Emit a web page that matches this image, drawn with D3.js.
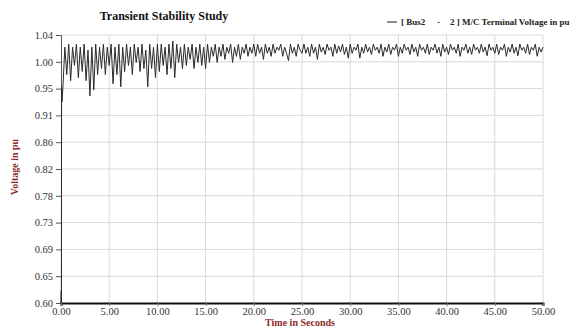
<!DOCTYPE html>
<html>
<head>
<meta charset="utf-8">
<script src="https://cdn.jsdelivr.net/npm/d3@7"></script>
<style>
  body { margin: 0; background: #fff; }
  text { font-family: "Liberation Serif", "Times New Roman", serif; }
</style>
</head>
<body>
<svg id="chart" width="572" height="328"></svg>
<script>
// x ticks and y ticks as printed on the chart
const xTickLabels = ["0.00", "5.00", "10.00", "15.00", "20.00", "25.00", "30.00", "35.00", "40.00", "45.00", "50.00"];
const yTickLabels = ["0.60", "0.65", "0.69", "0.73", "0.78", "0.82", "0.86", "0.91", "0.95", "1.00", "1.04"];

// start-up transient (fine steps)
const startTimes = [0.00, 0.02, 0.04, 0.06, 0.10];
const startVolts = [0.60, 0.62, 0.60, 0.955, 0.93];

// sampled every 0.2 s from t = 0.2 to 50.0
const sampleStep = 0.2;
const voltage = [
  // 0.2 - 5.0
  0.955, 1.02, 0.975, 1.025, 0.965, 1.02, 0.99, 1.025, 0.97, 1.02, 0.98, 1.025, 0.965, 1.015, 0.94, 1.02, 0.95, 1.025, 0.975, 1.02, 0.985, 1.025, 0.975, 1.02, 0.99,
  // 5.2 - 10.0
  1.025, 0.96, 1.02, 0.975, 1.025, 0.955, 1.02, 0.98, 1.025, 0.99, 1.02, 0.975, 1.025, 0.995, 1.02, 0.98, 1.025, 0.985, 1.015, 0.955, 1.025, 0.985, 1.02, 0.97, 1.025,
  // 10.2 - 15.0
  0.98, 1.025, 0.99, 1.02, 0.975, 1.025, 0.985, 1.03, 0.97, 1.025, 0.995, 1.02, 0.985, 1.025, 0.99, 1.02, 1.00, 1.025, 0.985, 1.02, 0.995, 1.025, 0.99, 1.02, 0.985,
  // 15.2 - 20.0
  1.025, 0.995, 1.02, 1.005, 1.025, 0.995, 1.02, 1.005, 1.025, 1.00, 1.02, 1.01, 1.025, 0.995, 1.02, 1.005, 1.025, 1.00, 1.02, 1.01, 1.025, 1.005, 1.02, 1.01, 1.025,
  // 20.2 - 25.0
  1.005, 1.025, 1.01, 1.02, 1.00, 1.025, 1.01, 1.02, 1.005, 1.025, 1.01, 1.02, 1.015, 1.025, 1.005, 1.02, 1.01, 0.998, 1.025, 1.01, 1.02, 1.005, 1.025, 1.015, 1.01,
  // 25.2 - 30.0
  1.025, 1.01, 1.02, 1.005, 1.025, 1.01, 1.02, 1.00, 1.025, 1.012, 1.02, 1.008, 1.025, 1.015, 1.02, 1.005, 1.025, 1.01, 1.022, 1.012, 1.025, 1.008, 1.02, 1.002, 1.025,
  // 30.2 - 35.0
  1.01, 1.02, 1.015, 1.025, 1.002, 1.02, 1.01, 1.025, 1.012, 1.02, 1.008, 1.025, 1.015, 1.02, 1.01, 1.025, 1.005, 1.02, 1.012, 1.025, 1.008, 1.02, 1.015, 1.025, 1.005,
  // 35.2 - 40.0
  1.02, 1.01, 1.025, 1.015, 1.02, 1.008, 1.025, 1.012, 1.02, 1.005, 1.025, 1.015, 1.02, 1.01, 1.025, 1.008, 1.02, 1.015, 1.025, 1.01, 1.02, 1.005, 1.025, 1.012, 1.02,
  // 40.2 - 45.0
  1.008, 1.025, 1.015, 1.02, 1.01, 1.025, 1.005, 1.02, 1.015, 1.025, 1.01, 1.02, 1.008, 1.025, 1.015, 1.02, 1.01, 1.025, 1.012, 1.02, 1.006, 1.025, 1.015, 1.02, 1.01,
  // 45.2 - 50.0
  1.025, 1.008, 1.02, 1.015, 1.025, 1.005, 1.02, 1.012, 1.025, 1.01, 1.02, 1.006, 1.025, 1.015, 1.02, 1.01, 1.025, 1.008, 1.02, 1.015, 1.025, 1.005, 1.02, 1.012, 1.02
];

const labelRed = "#8b2b2b";
const svg = d3.select("#chart");

const x = d3.scaleLinear().domain([0, 50]).range([61, 543]);
const y = d3.scaleLinear().domain([0.60, 1.04]).range([303, 35]);

const xTickVals = xTickLabels.map(Number);
const yTickVals = yTickLabels.map((d, i) => 0.60 + i * 0.044);

// grid
svg.append("g").selectAll("line.vg")
  .data(xTickVals.slice(1))
  .join("line")
  .attr("x1", d => x(d)).attr("x2", d => x(d))
  .attr("y1", y(1.04)).attr("y2", y(0.60))
  .attr("stroke", "#d8d8d8").attr("stroke-width", 1);

svg.append("g").selectAll("line.hg")
  .data(yTickVals.slice(1))
  .join("line")
  .attr("x1", x(0)).attr("x2", x(50))
  .attr("y1", d => y(d)).attr("y2", d => y(d))
  .attr("stroke", "#d8d8d8").attr("stroke-width", 1);

// axes
const yAxis = d3.axisLeft(y)
  .tickValues(yTickVals)
  .tickFormat((d, i) => yTickLabels[i])
  .tickSize(5).tickPadding(3);

const gy = svg.append("g").attr("transform", `translate(${x(0)},0)`).call(yAxis);
gy.select(".domain").attr("stroke", "#555");
gy.selectAll(".tick line").attr("stroke", "#555");
gy.selectAll("text").attr("font-size", "10.5px").attr("fill", "#333")
  .style("font-family", "'Liberation Serif', serif");

const xAxis = d3.axisBottom(x)
  .tickValues(xTickVals)
  .tickFormat((d, i) => xTickLabels[i])
  .tickSize(3).tickPadding(2);

const gx = svg.append("g").attr("transform", `translate(0,${y(0.60)})`).call(xAxis);
gx.select(".domain").attr("stroke", "#111").attr("stroke-width", 2);
gx.selectAll(".tick line").attr("stroke", "#777");
gx.selectAll("text").attr("font-size", "10.5px").attr("fill", "#333")
  .style("font-family", "'Liberation Serif', serif");

// series
const points = startTimes.map((t, i) => [t, startVolts[i]])
  .concat(voltage.map((v, i) => [(i + 1) * sampleStep, v]));

const line = d3.line()
  .x(d => x(d[0]))
  .y(d => y(d[1]));

svg.append("path")
  .datum(points)
  .attr("d", line)
  .attr("fill", "none")
  .attr("stroke", "#2a2a2a")
  .attr("stroke-width", 1);

// title
svg.append("text")
  .attr("x", 164).attr("y", 20)
  .attr("text-anchor", "middle")
  .attr("font-size", "12px").attr("font-weight", "bold")
  .attr("fill", "#111")
  .text("Transient Stability Study");

// legend
svg.append("line")
  .attr("x1", 387).attr("x2", 397)
  .attr("y1", 22).attr("y2", 22)
  .attr("stroke", "#222").attr("stroke-width", 1);

const legend = svg.append("text")
  .attr("y", 25)
  .attr("font-size", "9px").attr("font-weight", "bold")
  .attr("fill", "#222");
legend.append("tspan").attr("x", 401).text("[ Bus2");
legend.append("tspan").attr("x", 437).text("-");
legend.append("tspan").attr("x", 450).text("2 ] M/C Terminal Voltage in pu");

// axis titles
svg.append("text")
  .attr("x", 300).attr("y", 326)
  .attr("text-anchor", "middle")
  .attr("font-size", "10px").attr("font-weight", "bold")
  .attr("fill", labelRed)
  .text("Time in Seconds");

svg.append("text")
  .attr("transform", "translate(18,167) rotate(-90)")
  .attr("text-anchor", "middle")
  .attr("font-size", "10px").attr("font-weight", "bold")
  .attr("fill", labelRed)
  .text("Voltage in pu");
</script>
</body>
</html>
